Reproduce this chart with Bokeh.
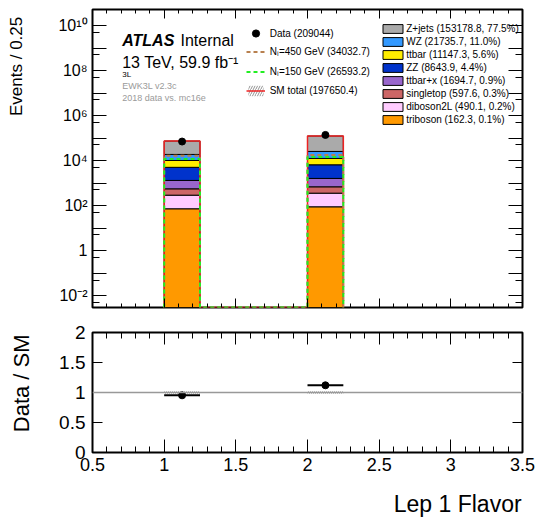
import math
import numpy as np
from bokeh.plotting import figure
from bokeh.layouts import column
from bokeh.models import (FixedTicker, CustomJSTickFormatter, LinearAxis, LogAxis, Range1d,
                          Label, Legend, LegendItem, Span)
from bokeh.embed import file_html
from bokeh.resources import INLINE

# ---------------- data ----------------
bin_lefts = [1.0, 2.0]
bin_width = 0.25

process_names = ["triboson", "diboson2L", "singletop", "ttbar+x", "ZZ", "ttbar", "WZ", "Z+jets"]
triboson = [73.0, 89.3]
diboson2L = [220.0, 270.1]
singletop = [268.0, 329.6]
ttbarx = [762.0, 932.7]
zz = [3720.0, 4923.9]
ttbar = [5130.0, 6017.3]
wz = [8700.0, 13035.7]
zjets = [55100.0, 98078.8]
process_colors = ["#ff9900", "#ffccff", "#cc6666", "#9966cc", "#0033cc", "#ffee00", "#3399ff", "#aaaaaa"]

data_counts = [70500.0, 138544.0]
sig450 = [16400.0, 17632.7]
sig150 = [11940.0, 14653.2]
sm_rel_unc = 0.02

x_major = [0.5, 1.0, 1.5, 2.0, 2.5, 3.0, 3.5]
x_minor = [round(0.5 + 0.1 * i, 2) for i in range(31)]
ratio_major = [0.0, 0.5, 1.0, 1.5, 2.0]
y_log_min, y_log_max = -2.52, 10.71

FONT = "Liberation Sans"
NBSP = "\u00a0"

# ---------------- derived ----------------
process_values = [triboson, diboson2L, singletop, ttbarx, zz, ttbar, wz, zjets]
lefts = np.array(bin_lefts)
rights = lefts + bin_width
centers = lefts + bin_width / 2
sm = np.sum(np.array(process_values), axis=0)
sm_total = float(sm.sum())
data = np.array(data_counts)
y_floor = 10 ** y_log_min

def step_xy(vals):
    xs, ys = [], []
    for l, r, v in zip(lefts, rights, vals):
        xs += [l, l, r, r]
        ys += [y_floor, v, v, y_floor]
    return xs, ys

# layout helpers (page pixel -> data units, for text placement)
FRAME_L, FRAME_W = 92.0, 430.0
TOP_T, TOP_H = 9.0, 298.0
RAT_B, RAT_H = 452.0, 120.0
def px_x(px):
    return 0.5 + (px - FRAME_L) / FRAME_W * 3.0
def py_top(py):
    return 10 ** (y_log_max - (py - TOP_T) * (y_log_max - y_log_min) / TOP_H)

blank = CustomJSTickFormatter(code="return '';")
num_fmt = CustomJSTickFormatter(code="return Number(tick.toFixed(2)).toString();")
log_fmt = CustomJSTickFormatter(code="""
const k = Math.round(Math.log10(tick));
if (k % 2 != 0) return "";
if (k == 0) return "1";
const sup = {"0":"\u2070","1":"\u00b9","2":"\u00b2","3":"\u00b3","4":"\u2074","5":"\u2075","6":"\u2076","7":"\u2077","8":"\u2078","9":"\u2079","-":"\u207b"};
return "10" + String(k).split("").map(c => sup[c]).join("");
""")

def style_axis(ax, major_in, minor_in, fmt, size="16px", standoff=5):
    ax.major_tick_in = major_in
    ax.major_tick_out = 0
    ax.minor_tick_in = minor_in
    ax.minor_tick_out = 0
    ax.major_tick_line_color = "black"
    ax.minor_tick_line_color = "black"
    ax.axis_line_color = None
    ax.formatter = fmt
    ax.major_label_standoff = standoff
    ax.major_label_text_font = FONT
    ax.major_label_text_font_size = size if fmt is not blank else "0px"
    ax.major_label_text_color = "black"

def title_axis(axis_cls, text, size, standoff, pad):
    # an axis without ticks that only carries the title; leading no-break spaces
    # push the (centred) title towards the far end of the axis, as in ROOT
    ax = axis_cls(ticker=FixedTicker(ticks=[], minor_ticks=[]), formatter=blank,
                  axis_line_color=None, major_tick_line_color=None, minor_tick_line_color=None,
                  major_label_text_font_size="0px", major_label_standoff=0,
                  major_tick_out=0, minor_tick_out=0, major_tick_in=0, minor_tick_in=0)
    ax.axis_label = NBSP * pad + text
    ax.axis_label_text_font = FONT
    ax.axis_label_text_font_size = size
    ax.axis_label_text_font_style = "normal"
    ax.axis_label_text_color = "black"
    ax.axis_label_standoff = standoff
    ax.axis_label_align = "center"
    return ax

# ---------------- top panel ----------------
p = figure(frame_width=int(FRAME_W), frame_height=int(TOP_H),
           x_range=Range1d(0.5, 3.5), y_range=Range1d(10 ** y_log_min, 10 ** y_log_max),
           y_axis_type="log", output_backend="svg", toolbar_location=None,
           min_border_left=92, min_border_right=14, min_border_top=9, min_border_bottom=11)
p.grid.visible = False
p.outline_line_color = "black"
p.outline_line_width = 2
p.background_fill_color = "white"

log_major = [10.0 ** k for k in range(-2, 11)]
log_minor = [5.0 * 10.0 ** (k - 1) for k in range(-2, 12)]
yt = FixedTicker(ticks=log_major, minor_ticks=log_minor)
xt = FixedTicker(ticks=x_major, minor_ticks=x_minor)

p.yaxis.ticker = yt
style_axis(p.yaxis[0], 14, 7, log_fmt, "16px", 5)
p.add_layout(title_axis(LogAxis, "Events / 0.25", "17px", 30, 39), "left")
p.xaxis.ticker = xt
style_axis(p.xaxis[0], 9, 4, blank)
ra = LogAxis(ticker=yt)
style_axis(ra, 14, 7, blank)
p.add_layout(ra, "right")
ta = LinearAxis(ticker=xt)
style_axis(ta, 9, 4, blank)
p.add_layout(ta, "above")

# stack
prev = np.zeros(2)
stack_renderers = {}
for name, vals, col in zip(process_names, process_values, process_colors):
    top = prev + np.array(vals)
    bottom = np.where(prev > 0, prev, y_floor)
    r = p.quad(left=lefts, right=rights, bottom=bottom, top=top,
               fill_color=col, line_color="black", line_width=1)
    stack_renderers[name] = r
    prev = top

# SM uncertainty band and line
sm_band = p.quad(left=lefts, right=rights, bottom=sm * (1 - sm_rel_unc), top=sm * (1 + sm_rel_unc),
                 fill_alpha=0, line_alpha=0, hatch_pattern="/", hatch_color="#777777",
                 hatch_scale=5, hatch_weight=0.8)
sx, sy = step_xy(sm)
sm_line = p.line(sx, sy, line_color="#ee2222", line_width=1.5)

# signals
s4x, s4y = step_xy(sig450)
sig450_r = p.line(s4x, s4y, line_color="#b8804f", line_width=2, line_dash="4 3")
s1x, s1y = step_xy(sig150)
sig150_r = p.line(s1x, s1y, line_color="#22ee22", line_width=2, line_dash="4 3")

# data
err = np.sqrt(data)
p.segment(x0=centers, x1=centers, y0=data - err, y1=data + err, line_color="black", line_width=1.5)
data_r = p.scatter(centers, data, size=7, marker="circle", fill_color="black", line_color="black")

def make_legend(items, loc, gw, gh, spacing):
    lg = Legend(items=items, location=loc, padding=0, margin=0, spacing=spacing,
                glyph_width=gw, glyph_height=gh, label_height=gh, label_standoff=5,
                label_text_font=FONT, label_text_font_size="10px", label_text_color="black",
                background_fill_alpha=0, border_line_alpha=0)
    return lg

leg_data = make_legend([LegendItem(label=f"Data ({data.sum():.0f})", renderers=[data_r])],
                       (153.7, 265), 19, 18, 0)
leg_sig = make_legend([
    LegendItem(label=f"N\u2097=450 GeV ({sum(sig450):.1f})", renderers=[sig450_r]),
    LegendItem(label=f"N\u2097=150 GeV ({sum(sig150):.1f})", renderers=[sig150_r]),
    LegendItem(label=f"SM total ({sm_total:.1f})", renderers=[sm_band, sm_line]),
], (153.7, 209.8), 19, 13, 6)
proc_items = []
for name, vals in reversed(list(zip(process_names, process_values))):
    tot = sum(vals)
    proc_items.append(LegendItem(label=f"{name} ({tot:.1f}, {100 * tot / sm_total:.1f}%)",
                                 renderers=[stack_renderers[name]]))
leg_proc = make_legend(proc_items, (288.2, 182.2), 25, 11, 2)
leg_proc.label_standoff = 1
for lg in (leg_data, leg_sig, leg_proc):
    p.add_layout(lg)

def add_text(fig, x, y, text, size, style="normal", color="black"):
    fig.add_layout(Label(x=x, y=y, text=text, text_font=FONT, text_font_size=size,
                         text_font_style=style, text_color=color,
                         text_align="left", text_baseline="alphabetic"))

add_text(p, px_x(121.7), py_top(40), "ATLAS", "16px", "bold italic")
add_text(p, px_x(180), py_top(40), "Internal", "16px")
add_text(p, px_x(121.7), py_top(61.7), "13 TeV, 59.9 fb\u207b\u00b9", "16px")
add_text(p, px_x(121.7), py_top(74), "3L", "8px")
add_text(p, px_x(121.7), py_top(85), "EWK3L v2.3c", "9px", color="#9a9a9a")
add_text(p, px_x(121.7), py_top(97.3), "2018 data vs. mc16e", "9px", color="#9a9a9a")

# ---------------- ratio panel ----------------
q = figure(frame_width=int(FRAME_W), frame_height=int(RAT_H),
           x_range=p.x_range, y_range=Range1d(0, 2),
           output_backend="svg", toolbar_location=None,
           min_border_left=92, min_border_right=14, min_border_top=14, min_border_bottom=70)
q.grid.visible = False
q.outline_line_color = "black"
q.outline_line_width = 2

rt = FixedTicker(ticks=ratio_major, minor_ticks=[])
xt2 = FixedTicker(ticks=x_major, minor_ticks=x_minor)
q.yaxis.ticker = rt
style_axis(q.yaxis[0], 10, 0, num_fmt, "19px", 7)
q.add_layout(title_axis(LinearAxis, "Data / SM", "22px", 23, 3), "left")
q.xaxis.ticker = xt2
style_axis(q.xaxis[0], 13, 6, num_fmt, "18px", 5)
q.add_layout(title_axis(LinearAxis, "Lep 1 Flavor", "23px", 17, 47), "below")
ra2 = LinearAxis(ticker=rt)
style_axis(ra2, 10, 0, blank)
q.add_layout(ra2, "right")
ta2 = LinearAxis(ticker=xt2)
style_axis(ta2, 12, 6, blank)
q.add_layout(ta2, "above")

q.add_layout(Span(location=1.0, dimension="width", line_color="#999999", line_width=1.5))
q.quad(left=lefts, right=rights, bottom=1 - sm_rel_unc, top=1 + sm_rel_unc,
       fill_alpha=0, line_alpha=0, hatch_pattern="\\", hatch_color="#888888",
       hatch_scale=4, hatch_weight=0.7)
ratio = data / sm
ratio_err = np.sqrt(data) / sm
q.segment(x0=lefts, x1=rights, y0=ratio, y1=ratio, line_color="black", line_width=2)
q.segment(x0=centers, x1=centers, y0=ratio - ratio_err, y1=ratio + ratio_err, line_color="black", line_width=2)
q.scatter(centers, ratio, size=7, marker="circle", fill_color="black", line_color="black")

layout = column(p, q, spacing=0)
open("out.html", "w").write(file_html(layout, INLINE))
